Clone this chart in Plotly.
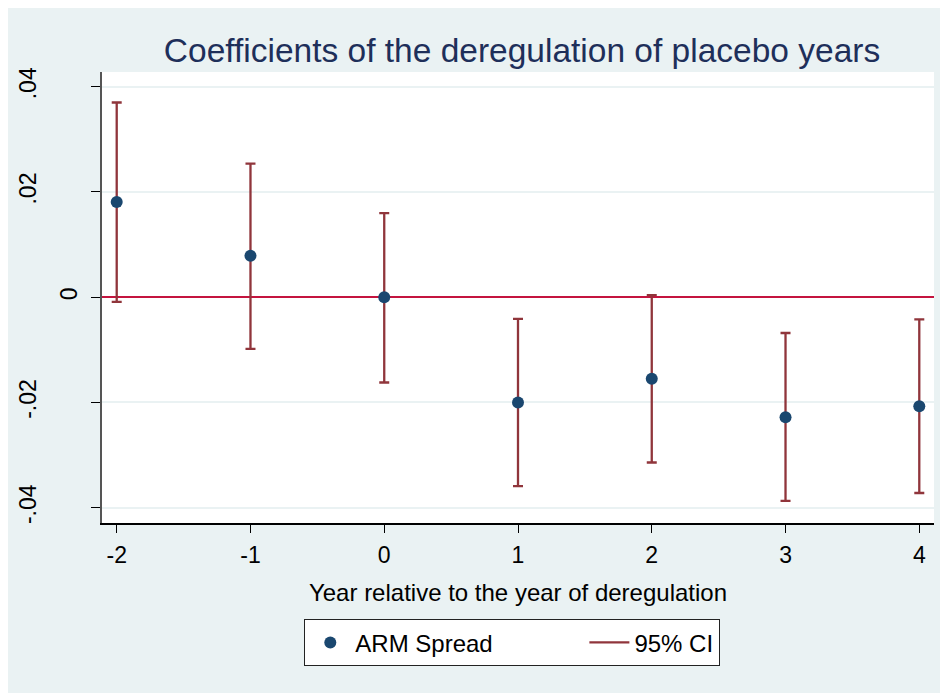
import plotly.graph_objects as go

# Data
years = [-2, -1, 0, 1, 2, 3, 4]
coef = [0.0181, 0.0079, 0.0000, -0.0200, -0.0155, -0.0228, -0.0207]
ci_hi = [0.0370, 0.0254, 0.0160, -0.0041, 0.0004, -0.0068, -0.0042]
ci_lo = [-0.0009, -0.0098, -0.0162, -0.0359, -0.0314, -0.0387, -0.0372]
ytick_vals = [-0.04, -0.02, 0, 0.02, 0.04]
ytick_text = ["-.04", "-.02", "0", ".02", ".04"]
xtick_vals = [-2, -1, 0, 1, 2, 3, 4]

BG = "#eaf2f3"
NAVY = "#1a476f"
MAROON = "#90353b"
FONT = "Liberation Sans, Arial, sans-serif"

# page is rendered with an 8px body offset; layout is expressed in
# reference-image pixels and shifted by OFF
OFF = 8
W, H = 948, 693
ML = 102 - OFF
MT = 72 - OFF
pw = 832
ph = 451
MR = W - ML - pw
MB = H - MT - ph
YRANGE = [-0.0429, 0.0428]


def px_x(ref_px):
    return (ref_px - OFF - ML) / pw


def px_y(ref_py):
    return (MT + ph - (ref_py - OFF)) / ph


# the "0" label sits closer to the axis than the others in the reference
outer_text = [t if v != 0 else "" for v, t in zip(ytick_vals, ytick_text)]
inner_vals = [v for v in ytick_vals if v == 0]
inner_text = [t for v, t in zip(ytick_vals, ytick_text) if v == 0]

fig = go.Figure()

# CI bars with caps (error bars on invisible markers at the lower bound)
fig.add_trace(go.Scatter(
    x=years, y=ci_lo, mode="markers",
    marker=dict(size=1, opacity=0),
    error_y=dict(type="data", symmetric=False,
                 array=[h - l for h, l in zip(ci_hi, ci_lo)],
                 arrayminus=[0] * len(years),
                 color=MAROON, thickness=2.3, width=5),
    showlegend=False, hoverinfo="skip"))

fig.add_trace(go.Scatter(
    x=years, y=coef, mode="markers",
    name="ARM Spread" + "\u00a0" * 13,
    marker=dict(color=NAVY, size=12)))

fig.add_trace(go.Scatter(
    x=[None], y=[None], mode="lines", name="95% CI", yaxis="y2",
    line=dict(color=MAROON, width=2.3)))

fig.update_layout(
    width=W, height=H,
    margin=dict(l=ML, r=MR, t=MT, b=MB, autoexpand=False),
    paper_bgcolor=BG, plot_bgcolor="white",
    font=dict(family=FONT, color="black", size=23),
    title=dict(text="Coefficients of the deregulation of placebo years",
               x=px_x(522), xref="paper", xanchor="center",
               y=1 - (50 - OFF) / H, yanchor="middle",
               font=dict(size=33.5, color="#1e2f5a", family=FONT)),
    xaxis=dict(range=[-2.11, 4.11], tickvals=xtick_vals,
               ticktext=[str(v) for v in xtick_vals],
               showgrid=False, zeroline=False,
               showline=True, linecolor="black", linewidth=1.5,
               ticks="outside", ticklen=8, tickwidth=1.3, tickcolor="black",
               tickfont=dict(size=23), ticklabelstandoff=3,
               title=dict(text="Year relative to the year of deregulation",
                          font=dict(size=24), standoff=17)),
    yaxis=dict(range=YRANGE, tickvals=ytick_vals, ticktext=outer_text,
               tickangle=-90,
               showgrid=True, gridcolor=BG, gridwidth=2,
               zeroline=True, zerolinecolor="#c4143f", zerolinewidth=2.3,
               showline=True, linecolor="#555555", linewidth=2,
               ticks="outside", ticklen=9, tickwidth=1.3, tickcolor="black",
               tickfont=dict(size=23), ticklabelstandoff=46),
    yaxis2=dict(range=YRANGE, matches="y", overlaying="y", side="left",
                tickvals=inner_vals, ticktext=inner_text, tickangle=-90,
                showgrid=False, zeroline=False, showline=False, ticks="",
                tickfont=dict(size=23), ticklabelstandoff=19),
    legend=dict(orientation="h", x=px_x(512), xanchor="center",
                y=px_y(619), yanchor="top",
                bgcolor="white", bordercolor="#222222", borderwidth=1.3,
                font=dict(size=24), itemwidth=40,
                traceorder="normal"),
)

fig.write_html("out.html")
